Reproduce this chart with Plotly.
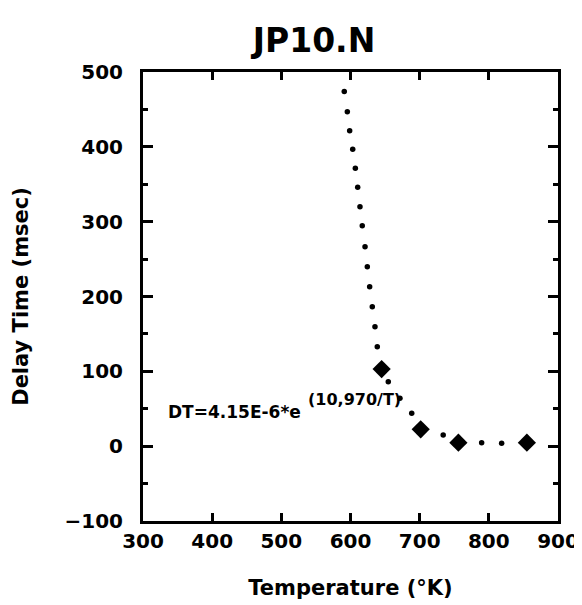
import plotly.graph_objects as go

# Measured data points (diamonds)
temp_pts = [645, 701.5, 756, 855]
delay_pts = [103, 22.5, 4.6, 4.6]

# Dots of the fitted curve, positions
curve_T = [591, 595.4, 598.8, 603.2, 607, 610.4, 613.7, 617, 621, 624.3, 627.7, 631.5,
           635.4, 638.7, 654.6, 671.5, 688.5, 734, 789.6, 818.5]
curve_DT = [474, 447, 421.6, 396.7, 371.3, 345.9, 320, 294.6, 266.5, 239.8, 213, 186.4,
            159.6, 132.9, 86, 64, 43.9, 14.9, 4.6, 3.8]

x_ticks = [300, 400, 500, 600, 700, 800, 900]
y_ticks = [-100, 0, 100, 200, 300, 400, 500]

FONT = "DejaVu Sans"
fig = go.Figure()

fig.add_trace(go.Scatter(
    x=curve_T, y=curve_DT, mode="markers",
    marker=dict(symbol="circle", size=5.5, color="black", line=dict(width=0)),
    hoverinfo="skip", showlegend=False))

fig.add_trace(go.Scatter(
    x=temp_pts, y=delay_pts, mode="markers",
    marker=dict(symbol="diamond", size=14, color="black"),
    showlegend=False))

fig.add_annotation(x=333, y=45, xref="x", yref="y", xanchor="left", yanchor="middle",
                   text="<b>DT=4.15E-6*e</b>", showarrow=False,
                   font=dict(family=FONT, size=17, color="black"))
fig.add_annotation(x=535, y=62, xref="x", yref="y", xanchor="left", yanchor="middle",
                   text="<b>(10,970/T)</b>", showarrow=False,
                   font=dict(family=FONT, size=16, color="black"))

axis_common = dict(showline=True, linewidth=3, linecolor="black", mirror="ticks",
                   ticks="inside", tickcolor="black", tickwidth=2.5,
                   showgrid=False, zeroline=False, automargin=False)

fig.update_xaxes(range=[300, 900], tickvals=x_ticks, ticklen=8,
                 tickfont=dict(family=FONT, size=20, color="black", weight="bold"),
                 ticklabelstandoff=0,
                 title=dict(text="<b>Temperature (°K)</b>", standoff=29,
                            font=dict(family=FONT, size=21, color="black")),
                 **axis_common)
fig.update_yaxes(range=[-100, 500], tickvals=y_ticks, ticklen=10,
                 minor=dict(dtick=50, ticklen=5, tickwidth=2.5, tickcolor="black", ticks="inside"),
                 tickfont=dict(family=FONT, size=20, color="black", weight="bold"),
                 ticklabelstandoff=13,
                 title=dict(text="<b>Delay Time (msec)</b>", standoff=31,
                            font=dict(family=FONT, size=21, color="black")),
                 **axis_common)

# The page adds an 8px body margin, so the figure is sized to fit the window
fig.update_layout(
    width=574, height=597,
    margin=dict(l=135, r=24, t=64, b=84, autoexpand=False),
    paper_bgcolor="white", plot_bgcolor="white",
    title=dict(text="<b>JP10.N</b>", x=306/574, xref="container", xanchor="center",
               y=1-32/597, yref="container", yanchor="middle",
               font=dict(family=FONT, size=33, color="black")),
)

fig.write_html("out.html")
